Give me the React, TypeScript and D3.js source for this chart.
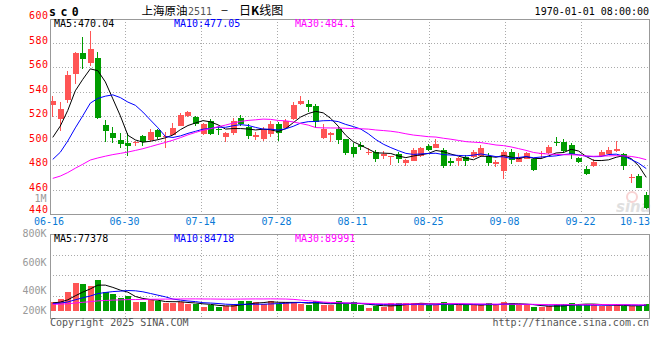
import React from 'react';
import * as d3 from 'd3';

// ---- data ----
const tickLabels = ['06-16', '06-30', '07-14', '07-28', '08-11', '08-25', '09-08', '09-22', '10-13'];

const opens = [529.5, 517.8, 533.6, 554.5, 572.0, 564.0, 567.5, 513.0, 506.6, 500.9,
  498.7, 498.3, 504.0, 501.0, 509.0, 503.0, 505.3, 512.6, 520.5, 520.0,
  506.0, 516.5, 509.5, 503.1, 506.4, 519.0, 511.5, 503.5, 501.7, 506.0,
  513.5, 510.5, 518.0, 530.0, 529.8, 528.5, 502.8, 505.0, 509.5, 501.5,
  495.2, 496.5, 490.5, 491.0, 487.5, 487.0, 489.5, 482.3, 484.0, 487.5,
  496.0, 494.6, 492.7, 484.0, 483.7, 487.2, 487.2, 488.0, 488.0, 481.0,
  475.5, 491.0, 483.1, 485.3, 485.3, 489.8, 490.0, 499.5, 499.3, 496.8,
  486.4, 477.0, 479.8, 487.5, 489.5, 491.5, 489.0, 470.0, 471.4, 455.8];

const highs = [536.9, 532.0, 557.4, 572.5, 584.7, 590.0, 572.5, 517.3, 511.5, 506.9,
  506.9, 500.0, 505.2, 510.0, 510.0, 507.5, 514.3, 522.7, 524.6, 520.5,
  515.0, 518.0, 512.0, 507.5, 518.6, 521.3, 514.0, 507.5, 511.3, 516.3,
  515.6, 518.0, 531.5, 536.4, 533.6, 530.0, 513.8, 507.5, 511.5, 502.0,
  498.5, 499.0, 494.5, 493.0, 492.0, 487.8, 491.0, 485.0, 494.0, 495.5,
  497.5, 502.0, 494.5, 486.0, 487.0, 488.6, 493.0, 497.0, 490.0, 484.5,
  492.5, 493.5, 490.0, 491.0, 486.0, 491.5, 497.0, 503.6, 501.5, 498.2,
  487.0, 480.0, 485.3, 492.7, 495.4, 500.3, 490.3, 472.8, 473.0, 458.5];

const lows = [519.7, 508.0, 531.0, 546.5, 559.0, 561.0, 518.0, 499.3, 498.7, 494.6,
  487.8, 496.0, 496.2, 499.0, 501.4, 494.0, 504.5, 512.0, 519.5, 512.0,
  505.0, 504.5, 505.0, 499.0, 505.0, 512.0, 501.5, 500.5, 500.3, 503.4,
  500.3, 510.0, 517.5, 529.5, 523.5, 511.0, 502.0, 499.5, 497.5, 488.5,
  487.3, 492.5, 488.5, 483.0, 485.5, 480.5, 481.8, 479.3, 483.5, 487.0,
  491.5, 494.3, 477.7, 479.5, 479.7, 480.0, 486.5, 487.0, 479.8, 479.0,
  469.0, 481.0, 482.5, 485.0, 475.5, 486.0, 489.5, 496.0, 490.0, 485.0,
  482.0, 472.0, 479.0, 487.0, 488.5, 491.0, 476.3, 466.0, 461.5, 444.2];

const closes = [532.8, 526.0, 554.0, 572.0, 567.0, 575.4, 518.5, 508.3, 502.8, 497.4,
  496.3, 499.5, 499.0, 507.0, 503.6, 504.0, 511.0, 521.0, 523.6, 514.0,
  513.5, 506.0, 508.8, 506.4, 516.0, 513.5, 504.2, 505.0, 509.6, 513.5,
  506.4, 516.0, 529.0, 533.0, 527.5, 515.4, 510.0, 506.5, 501.0, 490.5,
  489.0, 495.5, 491.0, 485.6, 489.5, 487.4, 485.3, 484.3, 492.3, 494.6,
  492.7, 497.3, 479.7, 482.3, 486.4, 484.0, 491.0, 494.0, 481.8, 483.0,
  491.3, 484.5, 487.0, 490.2, 476.3, 490.2, 495.5, 499.0, 492.0, 489.5,
  483.0, 473.3, 483.0, 491.3, 492.5, 493.5, 480.0, 470.6, 462.0, 445.6];

const volumes = [130000, 170000, 275000, 406000, 387000, 362000, 445000, 275000, 242000, 188000,
  217000, 130000, 130000, 164000, 140000, 120000, 120000, 130000, 106000, 106000,
  58000, 83000, 58000, 68000, 91000, 140000, 140000, 130000, 106000, 150000,
  106000, 130000, 130000, 106000, 91000, 140000, 91000, 91000, 140000, 97000,
  126000, 83000, 48000, 68000, 58000, 112000, 112000, 112000, 112000, 112000,
  83000, 91000, 126000, 83000, 83000, 83000, 91000, 91000, 112000, 83000,
  126000, 112000, 91000, 83000, 54000, 54000, 68000, 97000, 97000, 112000,
  97000, 97000, 97000, 68000, 68000, 97000, 73000, 73000, 68000, 97000];

// sessions before the visible window (only feed the moving averages)
const priorCloses = [470, 468, 466, 469, 472, 468, 465, 464, 467, 464,
  460, 457, 455, 452, 454, 456, 458, 455, 456, 459,
  468, 462, 465, 468, 472, 480, 490, 492, 520];
const priorVolumes = [95000, 88000, 102000, 90000, 85000, 98000, 92000, 87000, 96000, 100000,
  91000, 86000, 94000, 99000, 88000, 93000, 90000, 97000, 89000, 90000,
  92000, 100000, 94000, 98000, 96000, 105000, 110000, 115000, 120000];

const priceTicks = [600, 580, 560, 540, 520, 500, 480, 460, 440];
const volTickValues = [1000000, 800000, 600000, 400000, 200000];
const volTickLabels = ['1M', '800K', '600K', '400K', '200K'];
const maPeriods = [5, 10, 30];
const priceLegend = ['MA5:470.04', 'MA10:477.05', 'MA30:484.1'];
const volLegend = ['MA5:77378', 'MA10:84718', 'MA30:89991'];

// ---- styles ----
const MONO = "'DejaVu Sans Mono', monospace";
const CJK = "'Noto Sans CJK SC', sans-serif";
const RED = '#ff5555';
const GREEN = '#009c00';
const MA_COLORS = ['#000000', '#0000ff', '#ff00ff'];
const GRID = '#aaaaaa';
const BORDER = '#999999';
const AXIS_BLUE = '#0a7ad6';

export default function App() {
  const W = 660, H = 360;
  const N = closes.length;
  const x = d3.scaleBand<number>().domain(d3.range(N)).range([49, 650]);
  const cx = (i: number) => (x(i) ?? 0) + x.bandwidth() / 2;
  const px = (i: number) => Math.floor(cx(i));
  const y = d3.scaleLinear().domain([440, 600]).range([214.5, 18.5]);
  const yv = d3.scaleLinear().domain([0, 1000000]).range([311, 242]);
  const yvLabel = d3.scaleLinear().domain([200000, 400000, 800000, 1000000]).range([313.7, 294, 237.2, 201.5]);
  const gx = d3.scaleLinear().domain([0, 1]).range([49.5, 125.5]);

  const P = priorCloses.length;
  const allC = priorCloses.concat(closes);
  const allV = priorVolumes.concat(volumes);
  const ma = (arr: number[], n: number) =>
    d3.range(N).map((i) => d3.mean(arr.slice(P + i - n + 1, P + i + 1)) as number);

  const priceLine = d3.line<number>().x((_, i) => cx(i)).y((d) => y(d));
  const volLine = d3.line<number>().x((_, i) => cx(i)).y((d) => yv(d));

  const up = (i: number) => closes[i] >= opens[i];

  const vGrid = d3.range(1, 8).map((k) => gx(k));
  const volGridY = d3.range(1, 4).map((k) => 234.5 + k * 20.4);

  return (
    <svg width={W} height={H} style={{ position: 'fixed', left: 0, top: 0, background: '#fff' }}>
      <rect x={0} y={0} width={W} height={H} fill="#fff" />

      {/* header */}
      <text x={49} y={15.5} fontFamily={MONO} fontWeight="bold" fontSize={11.5} letterSpacing={4.5} fill="#000">sc0</text>
      <text x={141.5} y={14.5} fontFamily={CJK} fontSize={11.5} fill="#000">上海原油</text>
      <text x={188} y={14.5} fontFamily={MONO} fontSize={10} fill="#555">2511</text>
      <text x={221.5} y={13} fontFamily={MONO} fontSize={10} fill="#000">–</text>
      <text x={239} y={14.5} fontFamily={CJK} fontSize={12} fill="#000">日<tspan fontWeight="bold">K</tspan>线图</text>
      <text x={649} y={15} textAnchor="end" fontFamily={MONO} fontSize={10} fill="#000">1970-01-01 08:00:00</text>

      {/* main panel grid */}
      {priceTicks.slice(1, -1).map((t) => (
        <line key={'hg' + t} x1={50} x2={649} y1={Math.floor(y(t)) + 0.5} y2={Math.floor(y(t)) + 0.5}
          stroke={GRID} strokeDasharray="1,2" />
      ))}
      {vGrid.map((gxv, k) => (
        <line key={'vg' + k} x1={gxv} x2={gxv} y1={19} y2={214} stroke={GRID} strokeDasharray="1,2" />
      ))}

      {/* watermark */}
      <g opacity={0.55}>
        <circle cx={632} cy={197} r={5} fill="none" stroke="#f3b0b0" strokeWidth={2} />
        <text x={616} y={212} fontFamily="'DejaVu Sans', sans-serif" fontStyle="italic" fontWeight="bold" fontSize={15} fill="#c8c8c8">sina</text>
      </g>

      {/* candles */}
      {closes.map((c, i) => {
        const col = up(i) ? RED : GREEN;
        const top = Math.round(y(Math.max(opens[i], c)));
        const bot = Math.round(y(Math.min(opens[i], c)));
        const p = px(i);
        return (
          <g key={'k' + i} shapeRendering="crispEdges">
            <line x1={p + 0.5} x2={p + 0.5} y1={y(highs[i])} y2={y(lows[i])} stroke={col} />
            <rect x={p - 2} y={top} width={6} height={Math.max(1, bot - top)} fill={col} />
          </g>
        );
      })}

      {/* price moving averages */}
      {maPeriods.map((n, k) => (
        <path key={'ma' + n} d={priceLine(ma(allC, n)) ?? ''} fill="none" stroke={MA_COLORS[k]} strokeWidth={1} />
      ))}

      {/* main border */}
      <rect x={50.5} y={19.5} width={599} height={195} fill="none" stroke={BORDER} shapeRendering="crispEdges" />

      {/* price axis labels */}
      {priceTicks.map((t) => (
        <text key={'pl' + t} x={48.5} y={Math.min(y(t) + 0.8, 213.3)} textAnchor="end" fontFamily={MONO} fontSize={10} letterSpacing={0.5} fill="#ff0000">{t}</text>
      ))}

      {/* date labels */}
      {tickLabels.map((lab, k) => {
        const last = k === tickLabels.length - 1;
        const xx = k === 0 ? 49 : last ? 650 : gx(k) - 1;
        return (
          <text key={'dl' + k} x={xx} y={225.2} textAnchor={last ? 'end' : 'middle'} fontFamily={MONO} fontSize={10} fill={AXIS_BLUE}>{lab}</text>
        );
      })}

      {/* legends */}
      {priceLegend.map((s, k) => (
        <text key={'pg' + k} x={[54, 174, 295][k]} y={27} fontFamily={MONO} fontSize={10} fill={MA_COLORS[k]}>{s}</text>
      ))}

      {/* volume panel grid */}
      {volGridY.map((gy, k) => (
        <line key={'vhg' + k} x1={50} x2={649} y1={Math.round(gy) + 0.5} y2={Math.round(gy) + 0.5} stroke={GRID} strokeDasharray="1,2" />
      ))}
      {vGrid.map((gxv, k) => (
        <line key={'vvg' + k} x1={gxv} x2={gxv} y1={235} y2={318} stroke={GRID} strokeDasharray="1,2" />
      ))}

      {/* volume bars */}
      {volumes.map((v, i) => {
        const top = Math.round(yv(v));
        return (
          <rect key={'v' + i} x={px(i) - 2} y={top} width={6} height={yv(0) - top}
            fill={up(i) ? RED : GREEN} shapeRendering="crispEdges" />
        );
      })}
      {maPeriods.map((n, k) => (
        <path key={'vma' + n} d={volLine(ma(allV, n)) ?? ''} fill="none" stroke={MA_COLORS[k]} strokeWidth={1} />
      ))}

      <rect x={50.5} y={234.5} width={599} height={84} fill="none" stroke={BORDER} shapeRendering="crispEdges" />

      {volTickValues.map((v, k) => (
        <text key={'vl' + k} x={46.5} y={yvLabel(v)} textAnchor="end" fontFamily={MONO} fontSize={10} fill="#999">{volTickLabels[k]}</text>
      ))}
      {volLegend.map((s, k) => (
        <text key={'vlg' + k} x={[54, 174, 295][k]} y={242} fontFamily={MONO} fontSize={10} fill={MA_COLORS[k]}>{s}</text>
      ))}

      {/* footer */}
      <text x={50} y={325.5} fontFamily={MONO} fontSize={10} fill="#555">Copyright 2025 SINA.COM</text>
      <text x={649} y={325.5} textAnchor="end" fontFamily={MONO} fontSize={10} fill="#555">http://finance.sina.com.cn</text>
    </svg>
  );
}
